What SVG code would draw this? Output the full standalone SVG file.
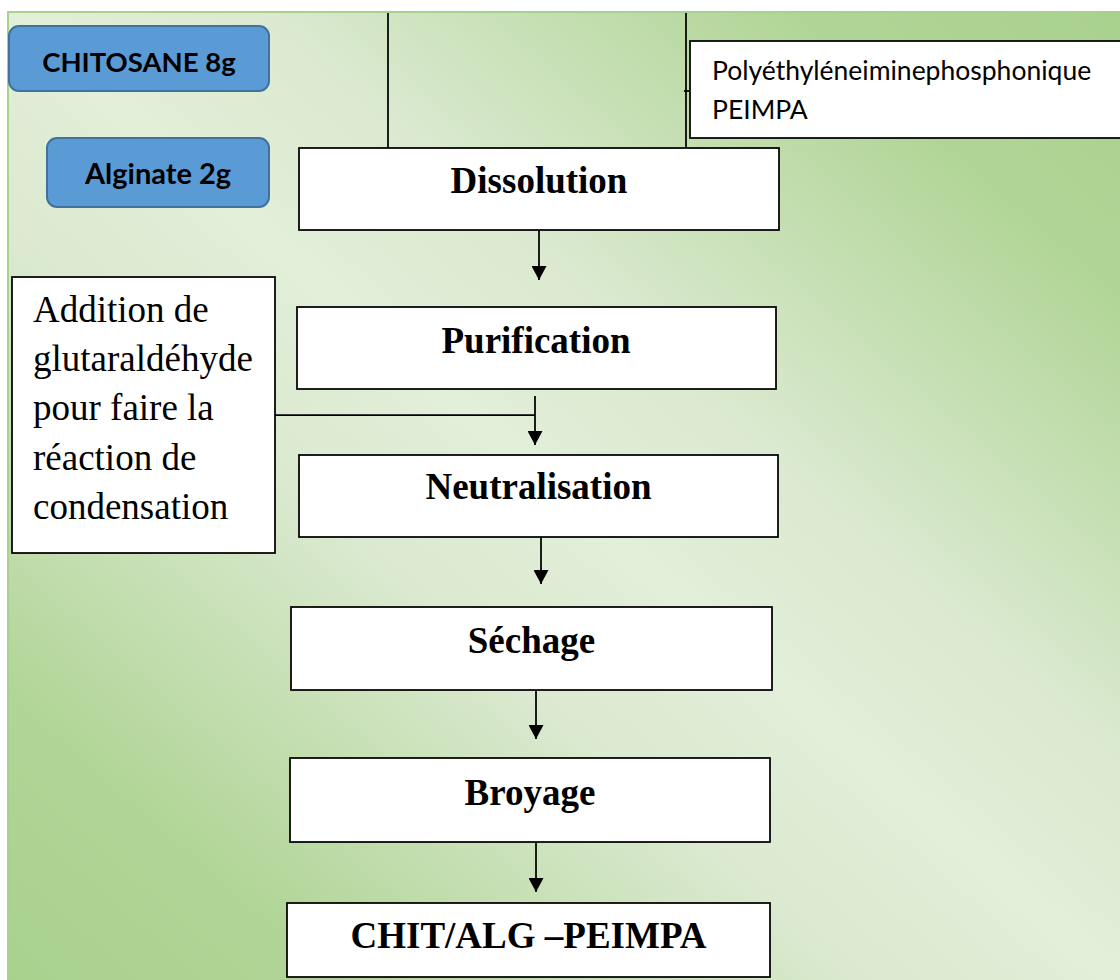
<svg xmlns="http://www.w3.org/2000/svg" width="1120" height="980" viewBox="0 0 1120 980">
  <defs>
    <linearGradient id="bg" x1="0" y1="1" x2="1" y2="0">
      <stop offset="0" stop-color="#a9d18e"/>
      <stop offset="0.15" stop-color="#b1d597"/>
      <stop offset="0.38" stop-color="#dae9cf"/>
      <stop offset="0.5" stop-color="#e2efd9"/>
      <stop offset="0.62" stop-color="#dae9cf"/>
      <stop offset="0.85" stop-color="#b1d597"/>
      <stop offset="1" stop-color="#a9d18e"/>
    </linearGradient>
    <marker id="arrow" viewBox="0 0 14 15" refX="14" refY="7.5" markerWidth="14" markerHeight="15" markerUnits="userSpaceOnUse" orient="auto">
      <path d="M0,0 L14,7.5 L0,15 z" fill="#000"/>
    </marker>
  </defs>
  <style>
    .box { fill: #ffffff; stroke: #000000; stroke-width: 1.75; }
    .blue { fill: #5b9bd5; stroke: #41719c; stroke-width: 2; }
    .step { font-family: "Liberation Serif", "Times New Roman", serif; font-weight: bold; font-size: 37px; fill: #000; text-anchor: middle; }
    .serif { font-family: "Liberation Serif", "Times New Roman", serif; font-size: 37px; fill: #000; }
    .cal { font-family: Lato, "Open Sans", sans-serif; fill: #000; }
    .conn { stroke: #000; stroke-width: 1.75; fill: none; }
  </style>

  <rect id="background" x="8" y="12" width="1113" height="969" fill="url(#bg)" stroke="#a9d18e" stroke-width="2"/>

  <g id="connectors">
    <line class="conn" x1="388" y1="13" x2="388" y2="148"/>
    <line class="conn" x1="686" y1="13" x2="686" y2="148"/>
    <line class="conn" x1="684" y1="91" x2="690" y2="91"/>
    <line class="conn" x1="539" y1="230" x2="539" y2="280" marker-end="url(#arrow)"/>
    <line class="conn" x1="275" y1="415" x2="535" y2="415"/>
    <line class="conn" x1="535" y1="396" x2="535" y2="445" marker-end="url(#arrow)"/>
    <line class="conn" x1="541" y1="537" x2="541" y2="584" marker-end="url(#arrow)"/>
    <line class="conn" x1="536" y1="690" x2="536" y2="739" marker-end="url(#arrow)"/>
    <line class="conn" x1="536" y1="842" x2="536" y2="892" marker-end="url(#arrow)"/>
  </g>

  <g id="chitosane">
    <rect class="blue" x="9" y="26" width="260" height="65" rx="10"/>
    <text class="cal" x="139" y="72" font-size="27.5" font-weight="bold" text-anchor="middle">CHITOSANE 8g</text>
  </g>

  <g id="alginate">
    <rect class="blue" x="47" y="138" width="222" height="69" rx="10"/>
    <text class="cal" x="158" y="184" font-size="29" font-weight="bold" text-anchor="middle">Alginate 2g</text>
  </g>

  <g id="peimpa">
    <rect class="box" x="690" y="41" width="440" height="97"/>
    <text class="cal" x="712" y="80" font-size="26.5">Polyéthyléneiminephosphonique</text>
    <text class="cal" x="712" y="119" font-size="26.5">PEIMPA</text>
  </g>

  <g id="dissolution">
    <rect class="box" x="299" y="148" width="480" height="82"/>
    <text class="step" x="539" y="193">Dissolution</text>
  </g>

  <g id="purification">
    <rect class="box" x="297" y="307" width="479" height="82"/>
    <text class="step" x="536" y="353">Purification</text>
  </g>

  <g id="addition">
    <rect class="box" x="12" y="277" width="263" height="276"/>
    <text class="serif" x="33" y="322">Addition de</text>
    <text class="serif" x="33" y="371">glutaraldéhyde</text>
    <text class="serif" x="33" y="420">pour faire la</text>
    <text class="serif" x="33" y="470">réaction de</text>
    <text class="serif" x="33" y="519">condensation</text>
  </g>

  <g id="neutralisation">
    <rect class="box" x="299" y="455" width="479" height="82"/>
    <text class="step" x="538.5" y="499">Neutralisation</text>
  </g>

  <g id="sechage">
    <rect class="box" x="291" y="607" width="481" height="83"/>
    <text class="step" x="531.5" y="653">Séchage</text>
  </g>

  <g id="broyage">
    <rect class="box" x="290" y="758" width="480" height="84"/>
    <text class="step" x="530" y="805">Broyage</text>
  </g>

  <g id="chitalg">
    <rect class="box" x="287" y="903" width="483" height="74"/>
    <text class="step" x="528.5" y="948">CHIT/ALG –PEIMPA</text>
  </g>
</svg>
